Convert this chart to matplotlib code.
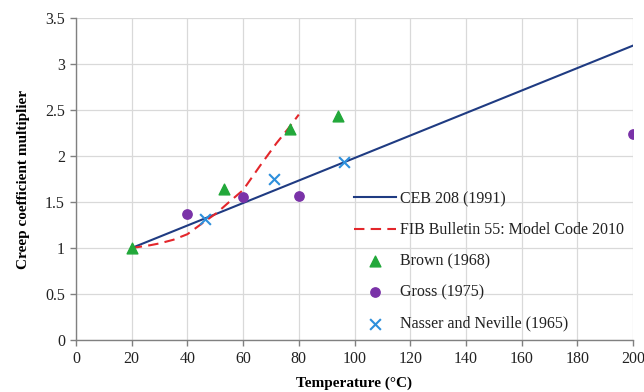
import matplotlib
matplotlib.use("Agg")
import matplotlib.pyplot as plt

# Data
ceb_T = [20, 200]
ceb_v = [1.0, 3.2]

fib_T = [20, 26.6, 30, 35, 40, 46.3, 50.5, 55, 60, 66, 72, 76, 80]
fib_v = [1.0, 1.03, 1.05, 1.09, 1.15, 1.29, 1.38, 1.50, 1.63, 1.89, 2.14, 2.29, 2.45]

brown_T = [20, 53, 77, 94]
brown_v = [1.0, 1.64, 2.29, 2.43]

gross_T = [40, 60, 80, 200]
gross_v = [1.37, 1.55, 1.57, 2.24]

nasser_T = [46.3, 71.2, 96.3]
nasser_v = [1.32, 1.75, 1.94]

xticks = list(range(0, 201, 20))
yticks = [0, 0.5, 1, 1.5, 2, 2.5, 3, 3.5]
ytick_labels = ["0", "0.5", "1", "1.5", "2", "2.5", "3", "3.5"]

plt.rcParams['font.family'] = ['Liberation Serif', 'DejaVu Serif']

fig = plt.figure(figsize=(6.44, 3.92), dpi=100)
ax = fig.add_axes([76/644, 52/392, 557/644, 322/392])

ax.plot(ceb_T, ceb_v, color='#1f3b82', lw=1.5, label='CEB 208 (1991)', zorder=3)
ax.plot(fib_T, fib_v, color='#e3262b', lw=1.5, ls=(0, (5, 3)), label='FIB Bulletin 55: Model Code 2010', zorder=3)
ax.scatter(brown_T, brown_v, marker='^', s=60, color='#22a83a', label='Brown (1968)', zorder=4)
ax.scatter(gross_T, gross_v, marker='o', s=45, color='#7a32a8', label='Gross (1975)', zorder=4)
ax.scatter(nasser_T, nasser_v, marker='x', s=60, color='#2d8fdc', linewidths=1.5, label='Nasser and Neville (1965)', zorder=4)

ax.set_xlim(0, 200)
ax.set_ylim(0, 3.5)
ax.set_xticks(xticks)
ax.set_yticks(yticks)
ax.set_yticklabels(ytick_labels)
ax.grid(True, color='#d9d9d9', lw=0.9)
ax.set_axisbelow(True)
for s in ['top', 'right']:
    ax.spines[s].set_visible(False)
for s in ['left', 'bottom']:
    ax.spines[s].set_color('#808080')
    ax.spines[s].set_linewidth(1.0)
ax.tick_params(axis='both', labelsize=11.5, color='#808080', length=4, width=1.0, pad=4, labelcolor='#222222')

ax.set_xlabel('Temperature (°C)', fontsize=11, fontweight='bold', labelpad=7)
ax.set_ylabel('Creep coefficient multiplier', fontsize=11, fontweight='bold', labelpad=11)

leg = fig.legend(loc='upper left', bbox_to_anchor=(354/644, 1 - 191/392), frameon=False,
                 fontsize=11.5, labelspacing=0.95, handlelength=2.6, handletextpad=0.3,
                 borderaxespad=0, borderpad=0)
for t in leg.get_texts():
    t.set_color('#222222')

fig.savefig('out.png', dpi=100)
